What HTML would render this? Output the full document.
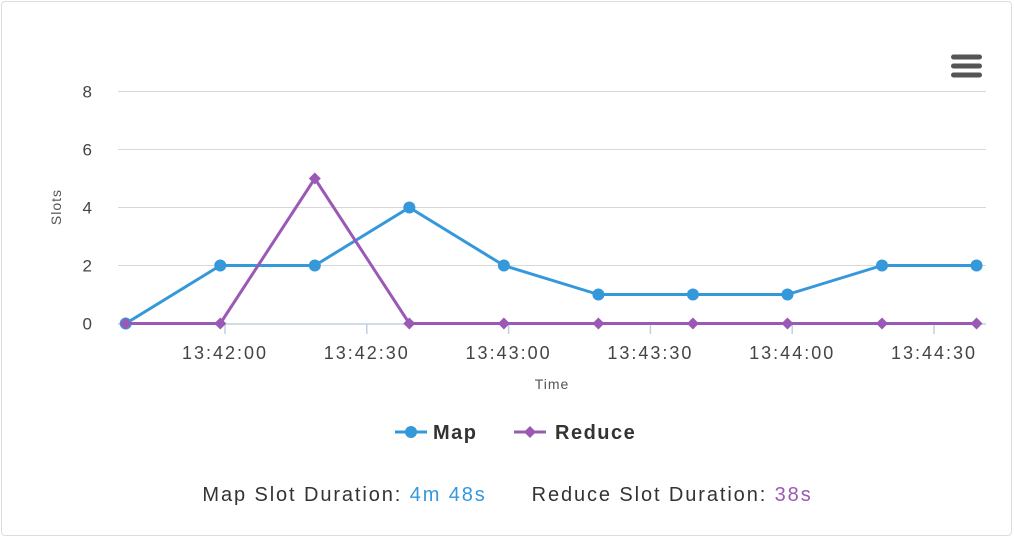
<!DOCTYPE html>
<html><head><meta charset="utf-8"><style>
body{margin:0;background:#fff;font-family:"Liberation Sans",sans-serif;}
#wrap{position:relative;width:1015px;height:539px;overflow:hidden;}
#frame{position:absolute;left:1px;top:1px;width:1011px;height:535px;border:1px solid #ddd;border-radius:4px;box-sizing:border-box;}
#footer{position:absolute;left:0;top:484px;width:1015px;text-align:center;font-size:20px;color:#333;letter-spacing:1.9px;}
</style></head><body>
<div id="wrap">
<div id="frame"></div>
<svg id="chart" width="1015" height="539" style="position:absolute;left:0;top:0"></svg>
<div id="footer">
<span>Map Slot Duration: <span style="color:#3498db">4m 48s</span></span>
<span style="display:inline-block;width:30px"></span>
<span>Reduce Slot Duration: <span style="color:#9b59b6">38s</span></span>
</div>
</div>
<script>
const times=[-21,-1,19,39,59,79,99,119,139,159]; // seconds relative to 13:42:00
const mapValues=[0,2,2,4,2,1,1,1,2,2];
const reduceValues=[0,0,5,0,0,0,0,0,0,0];
const yTicks=[0,2,4,6,8];
const xTickSeconds=[0,30,60,90,120,150];
const xTickLabels=["13:42:00","13:42:30","13:43:00","13:43:30","13:44:00","13:44:30"];
const NS="http://www.w3.org/2000/svg";
const svg=document.getElementById('chart');
const X=t=>225+t*141.8/30;
const Y=v=>323.5-v*29;
function mk(tag,attrs,parent){const e=document.createElementNS(NS,tag);for(const k in attrs)e.setAttribute(k,attrs[k]);(parent||svg).appendChild(e);return e;}
yTicks.forEach(v=>{
 if(v>0){const g=mk('line',{x1:118,x2:986,y1:Y(v),y2:Y(v),stroke:'#d8d8d8','stroke-width':1});
 
 }
 const t=mk('text',{x:92,y:Y(v)+6,'text-anchor':'end','font-size':17,fill:'#444'});
 t.textContent=v;
 
 
});
const ax=mk('line',{x1:118,x2:986,y1:324,y2:324,stroke:'#c0d0e0','stroke-width':1.5});


xTickSeconds.forEach((s,i)=>{
 const tk=mk('line',{x1:X(s),x2:X(s),y1:324,y2:334,stroke:'#c0d0e0','stroke-width':1.5});
 
 
 const t=mk('text',{x:X(s),y:359,'text-anchor':'middle','font-size':18,'letter-spacing':2,fill:'#444'});
 t.textContent=xTickLabels[i];
 
 
});
const xt=mk('text',{x:552,y:389,'text-anchor':'middle','font-size':14,'letter-spacing':1,fill:'#555'});xt.textContent='Time';


const yt=mk('text',{x:61,y:207,'text-anchor':'middle','font-size':14,'letter-spacing':1,fill:'#555',transform:'rotate(-90 61 207)'});yt.textContent='Slots';


function series(vals,color,marker,name){
 const pl=mk('polyline',{points:vals.map((v,i)=>X(times[i])+','+Y(v)).join(' '),fill:'none',stroke:color,'stroke-width':3,'stroke-linejoin':'round'});
 
 
 vals.forEach((v,i)=>{
  const cx=X(times[i]),cy=Y(v);let m;
  if(marker==='circle')m=mk('circle',{cx:cx,cy:cy,r:6,fill:color});
  else m=mk('polygon',{points:`${cx},${cy-6} ${cx+6},${cy} ${cx},${cy+6} ${cx-6},${cy}`,fill:color});
  
  
 });
}
series(mapValues,'#3498db','circle','map');
series(reduceValues,'#9b59b6','diamond','reduce');
const lg=mk('g',{});


const l1=mk('g',{},lg);


mk('line',{x1:395,x2:427,y1:432,y2:432,stroke:'#3498db','stroke-width':3},l1);
mk('circle',{cx:411,cy:432,r:6,fill:'#3498db'},l1);
const t1=mk('text',{x:433,y:439,'font-size':20,'font-weight':'bold','letter-spacing':1.5,fill:'#333'},l1);t1.textContent='Map';
const l2=mk('g',{},lg);


mk('line',{x1:514,x2:546,y1:432,y2:432,stroke:'#9b59b6','stroke-width':3},l2);
mk('polygon',{points:'530,426 536,432 530,438 524,432',fill:'#9b59b6'},l2);
const t2=mk('text',{x:555,y:439,'font-size':20,'font-weight':'bold','letter-spacing':1.5,fill:'#333'},l2);t2.textContent='Reduce';
const mn=mk('g',{});


[57,66,75].forEach(y=>mk('rect',{x:951,y:y-2.5,width:31,height:5,rx:2.5,fill:'#555'},mn));
</script>
</body></html>
